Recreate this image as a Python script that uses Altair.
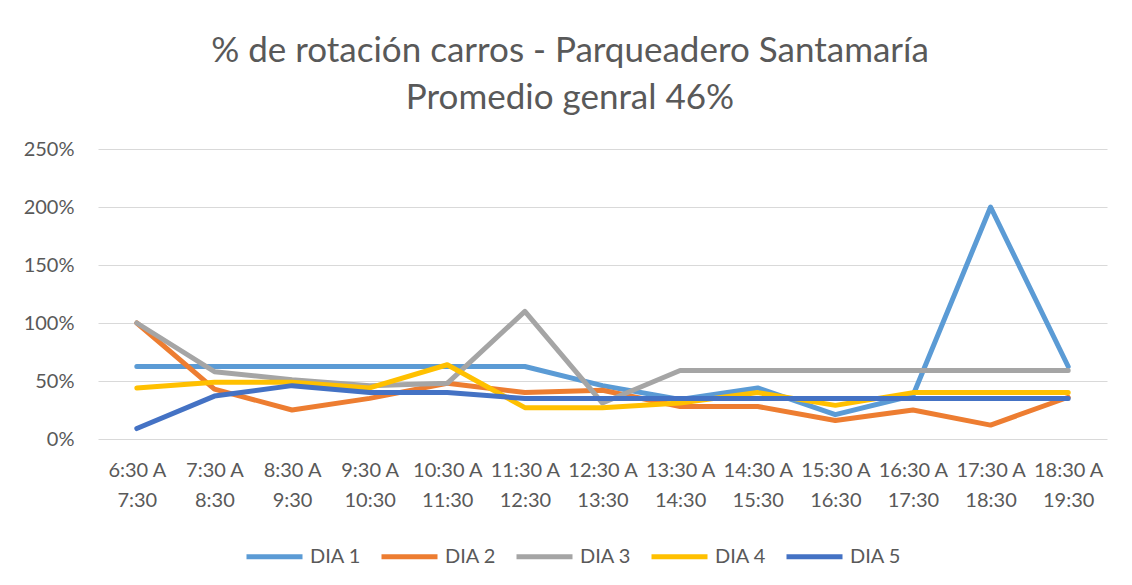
import altair as alt
import pandas as pd

categories = ["6:30 A|7:30", "7:30 A|8:30", "8:30 A|9:30", "9:30 A|10:30", "10:30 A|11:30",
              "11:30 A|12:30", "12:30 A|13:30", "13:30 A|14:30", "14:30 A|15:30",
              "15:30 A|16:30", "16:30 A|17:30", "17:30 A|18:30", "18:30 A|19:30"]
series_names = ["DIA 1", "DIA 2", "DIA 3", "DIA 4", "DIA 5"]
dia1 = [0.625, 0.625, 0.625, 0.625, 0.625, 0.625, 0.46, 0.34, 0.44, 0.21, 0.375, 2.00, 0.625]
dia2 = [1.00, 0.43, 0.25, 0.35, 0.48, 0.40, 0.42, 0.28, 0.28, 0.16, 0.25, 0.12, 0.36]
dia3 = [1.00, 0.58, 0.51, 0.46, 0.48, 1.10, 0.31, 0.59, 0.59, 0.59, 0.59, 0.59, 0.59]
dia4 = [0.44, 0.49, 0.49, 0.44, 0.64, 0.27, 0.27, 0.31, 0.40, 0.29, 0.40, 0.40, 0.40]
dia5 = [0.09, 0.37, 0.46, 0.40, 0.40, 0.35, 0.35, 0.35, 0.35, 0.35, 0.35, 0.35, 0.35]
colors = ["#5B9BD5", "#ED7D31", "#A5A5A5", "#FFC000", "#4472C4"]
title_lines = ["% de rotación carros - Parqueadero Santamaría", "Promedio genral 46%"]
y_ticks = [0, 0.5, 1.0, 1.5, 2.0, 2.5]

rows = []
for name, vals in zip(series_names, [dia1, dia2, dia3, dia4, dia5]):
    for i, (c, v) in enumerate(zip(categories, vals)):
        rows.append({"serie": name, "franja": c, "valor": v, "idx": i})
df = pd.DataFrame(rows)

FONT = "Lato"
GREY = "#595959"

lines = alt.Chart(df).mark_line(strokeWidth=5, strokeCap="round", strokeJoin="round").encode(
    x=alt.X("franja:N", sort=categories, title=None,
            axis=alt.Axis(labelAngle=0, labelExpr="split(datum.label, '|')", labelFontSize=20,
                          labelFont=FONT, labelColor=GREY, labelPadding=21, labelLineHeight=30,
                          ticks=False, domain=False, grid=False, labelBaseline="top")),
    y=alt.Y("valor:Q", scale=alt.Scale(domain=[0, 2.5], nice=False), title=None,
            axis=alt.Axis(values=y_ticks, format=".0%", labelFontSize=20, labelFont=FONT,
                          labelColor=GREY, labelPadding=24, ticks=False, domain=False,
                          gridColor="#d9d9d9", gridWidth=1.2)),
    color=alt.Color("serie:N", sort=series_names,
                    scale=alt.Scale(domain=series_names, range=colors),
                    legend=alt.Legend(title=None, orient="none", legendX=146, legendY=377,
                                      direction="horizontal", symbolType="stroke",
                                      symbolSize=3136, symbolStrokeWidth=5,
                                      labelFontSize=20, labelFont=FONT, labelColor=GREY,
                                      labelOffset=5, columnPadding=9, columns=5)),
    order=alt.Order("idx:Q"),
)

t1 = alt.Chart(pd.DataFrame({"t": [title_lines[0]]})).mark_text(
    fontSize=35, font=FONT, color=GREY, baseline="middle", align="center"
).encode(x=alt.value(472), y=alt.value(-98), text="t:N")
t2 = alt.Chart(pd.DataFrame({"t": [title_lines[1]]})).mark_text(
    fontSize=35, font=FONT, color=GREY, baseline="middle", align="center"
).encode(x=alt.value(472), y=alt.value(-51), text="t:N")

chart = alt.layer(lines, t1, t2).properties(
    width=1009, height=290,
    autosize=alt.AutoSizeParams(type="none"),
    padding={"left": 90, "top": 141, "right": 17, "bottom": 138},
).configure_view(stroke=None)

chart.save("out.html", embed_options={"renderer": "svg", "actions": False})
